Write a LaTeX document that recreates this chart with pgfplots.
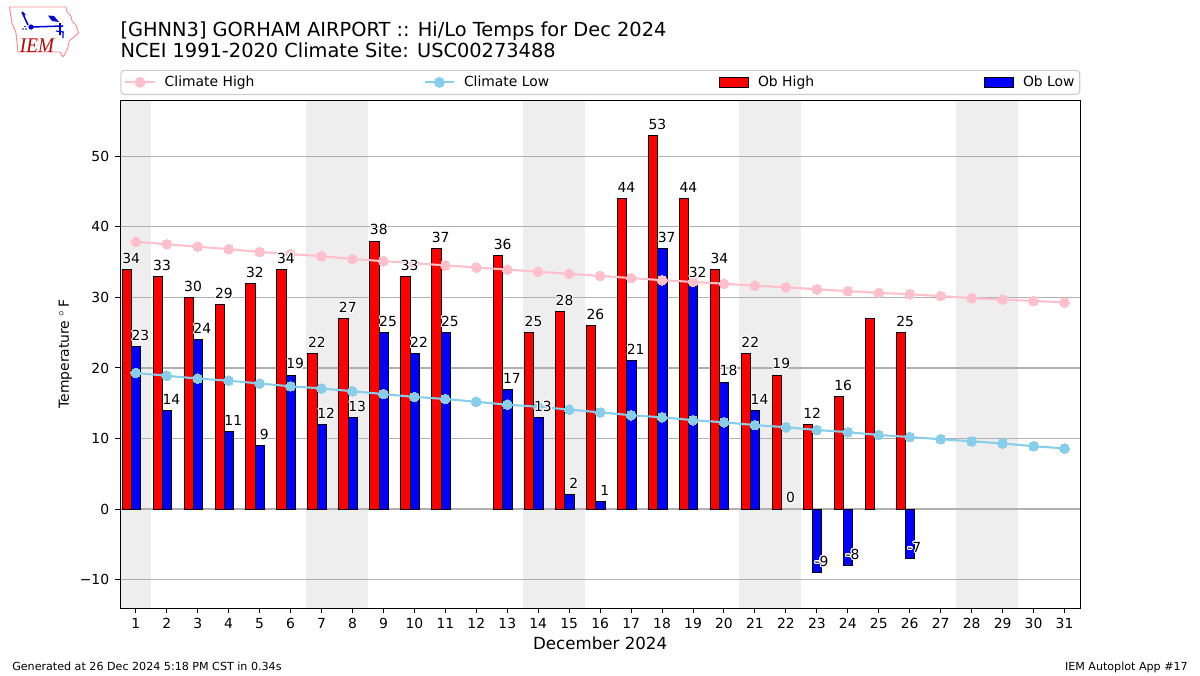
\documentclass[border=0pt]{standalone}
\usepackage{fontspec}
\setmainfont{DejaVu Sans}
\usepackage{contour}
\contourlength{0.7pt}
\contournumber{24}
\usepackage{pgfplots}
\usepackage{pgfplotstable}
\pgfplotsset{compat=1.18}
\definecolor{spanc}{HTML}{EEEEEE}
\definecolor{pinkc}{HTML}{FFC0CB}
\definecolor{skyc}{HTML}{87CEEB}
\definecolor{gridc}{HTML}{B0B0B0}
\pgfplotstableread{
x y
1 34
2 33
3 30
4 29
5 32
6 34
7 22
8 27
9 38
10 33
11 37
13 36
14 25
15 28
16 26
17 44
18 53
19 44
20 34
21 22
22 19
23 12
24 16
25 27
26 25
}\highs
\pgfplotstableread{
x y
1 23
2 14
3 24
4 11
5 9
6 19
7 12
8 13
9 25
10 22
11 25
13 17
14 13
15 2
16 1
17 21
18 37
19 32
20 18
21 14
23 -9
24 -8
26 -7
}\lows
\pgfplotstableread{
x y
1 37.9
2 37.55
3 37.2
4 36.85
5 36.45
6 36.15
7 35.85
8 35.45
9 35.15
10 34.85
11 34.55
12 34.25
13 33.95
14 33.65
15 33.35
16 33.05
17 32.75
18 32.45
19 32.2
20 31.95
21 31.65
22 31.45
23 31.15
24 30.9
25 30.65
26 30.45
27 30.2
28 29.9
29 29.7
30 29.5
31 29.3
}\climhigh
\pgfplotstableread{
x y
1 19.3
2 18.9
3 18.5
4 18.2
5 17.8
6 17.4
7 17.1
8 16.7
9 16.3
10 15.9
11 15.6
12 15.2
13 14.8
14 14.5
15 14.1
16 13.7
17 13.3
18 13.0
19 12.6
20 12.3
21 11.9
22 11.6
23 11.2
24 10.9
25 10.5
26 10.2
27 9.9
28 9.6
29 9.3
30 8.9
31 8.6
}\climlow
\pgfplotstableread{
x y t
0.85 35 34
1.85 34 33
2.85 31 30
3.85 30 29
4.85 33 32
5.85 35 34
6.85 23 22
7.85 28 27
8.85 39 38
9.85 34 33
10.85 38 37
12.85 37 36
13.85 26 25
14.85 29 28
15.85 27 26
16.85 45 44
17.85 54 53
18.85 45 44
19.85 35 34
20.85 23 22
21.85 20 19
22.85 13 12
23.85 17 16
25.85 26 25
1.15 24 23
2.15 15 14
3.15 25 24
4.15 12 11
5.15 10 9
6.15 20 19
7.15 13 12
8.15 14 13
9.15 26 25
10.15 23 22
11.15 26 25
13.15 18 17
14.15 14 13
15.15 3 2
16.15 2 1
17.15 22 21
18.15 38 37
19.15 33 32
20.15 19 18
21.15 15 14
22.15 1 0
23.15 -8 -9
24.15 -7 -8
26.15 -6 -7
}\barlabels
\begin{document}
\begin{tikzpicture}[x=0.72pt,y=-0.72pt]
\path (0,0) rectangle (1200,675);
% IEM logo
\draw[color=red!45!white,line width=0.7pt,line join=round] (9.5,7) -- (66,7) -- (67,12) -- (71,16) -- (72,21) -- (76,25) -- (78.5,33) -- (74,37) -- (69,41) -- (68,47) -- (66,52) -- (63,57) -- (60,52) -- (18,52) -- (16,33) -- (12,23) -- cycle;
\draw[blue!85!black,line width=1.1pt] (31,27) -- (63,26) (60,23) -- (60,35) (22,12) -- (28,25) (22,12) -- (25,15);
\fill[blue!85!black] (31,27) circle (2.6);
\fill[blue!85!black] (48,15.5) -- (54,16) -- (59,22) -- (52,21) -- cycle;
\fill[blue!85!black] (23,29) circle (0.9) (26,29) circle (0.9) (25,26.5) circle (0.9);
\draw[blue!85!black,line width=0.8pt] (56,31) -- (64,32) (63,32) -- (63,38);
\node[anchor=base,inner sep=0pt,text=red!75!black,xscale=0.92,font=\fontsize{15}{15}\selectfont\fontspec{Liberation Serif}\itshape] at (37,52) {IEM};
\begin{axis}[
  at={(86.6pt,-437.76pt)},anchor=south west,
  scale only axis,width=691pt,height=365.76pt,
  set layers=standard,
  xmin=0.5,xmax=31.5,ymin=-14.04,ymax=58,
  xtick={1,2,...,31},
  ytick={-10,0,10,20,30,40,50},
  yticklabels={−10,0,10,20,30,40,50},
  xmajorgrids=false,ymajorgrids=true,
  major grid style={gridc,line width=0.8pt},
  axis line style={line width=0.7pt},
  tick style={black,line width=0.7pt},
  tick align=outside,
  major tick length=3.5pt,
  xtick pos=bottom,ytick pos=left,
  tick label style={font=\fontsize{10}{12}\selectfont},
  /pgf/number format/assume math mode=true,
  xticklabel style={yshift=-0.4pt},
  yticklabel style={xshift=-1pt},
  xlabel={December 2024},
  xlabel style={font=\fontsize{12}{14}\selectfont,at={(axis description cs:0.5,0)},anchor=base,yshift=-30pt},
  ylabel={Temperature $^\circ$\,F},
  ylabel style={font=\fontsize{10}{12}\selectfont,at={(axis description cs:0,0.5)},anchor=base,rotate=0,yshift=37pt},
  title={[GHNN3] GORHAM AIRPORT :: Hi/Lo Temps for Dec 2024\\NCEI 1991-2020 Climate Site: USC00273488},
  title style={font=\fontsize{13.95}{15.1}\selectfont,at={(axis description cs:0,1)},anchor=south west,align=left,inner sep=0pt,yshift=24pt},
  legend columns=4,
  legend cell align=left,
  legend style={at={(axis description cs:0,1)},anchor=south west,yshift=3.6pt,
    draw=black!20,rounded corners=2.5pt,line width=0.8pt,
    font=\fontsize{10}{12}\selectfont,
    inner xsep=2.6pt,inner ysep=4.1pt,
    nodes={inner sep=0pt},
    /tikz/every odd column/.append style={column sep=6.5pt},
  },
]
\addlegendimage{legend image code/.code={\draw[sharp corners,pinkc,line width=1.5pt] (0pt,0pt) -- (21pt,0pt); \fill[pinkc] (10.5pt,0pt) circle (3.5pt);}}
\addlegendentry{\makebox[186.5pt][l]{Climate High}}
\addlegendimage{legend image code/.code={\draw[sharp corners,skyc,line width=1.5pt] (0pt,0pt) -- (21pt,0pt); \fill[skyc] (10.5pt,0pt) circle (3.5pt);}}
\addlegendentry{\makebox[183.6pt][l]{Climate Low}}
\addlegendimage{legend image code/.code={\draw[sharp corners,black,fill=red,line width=0.6pt] (0pt,-3.5pt) rectangle (21pt,3.5pt);}}
\addlegendentry{\makebox[162.7pt][l]{Ob High}}
\addlegendimage{legend image code/.code={\draw[sharp corners,black,fill=blue,line width=0.6pt] (0pt,-3.5pt) rectangle (21pt,3.5pt);}}
\addlegendentry{\makebox[38.2pt][l]{Ob Low}}
% weekend spans
\addplot[on layer=axis background,fill=spanc,draw=none,forget plot] coordinates {(0.5,-14.04)(1.5,-14.04)(1.5,58)(0.5,58)} --cycle;
\addplot[on layer=axis background,fill=spanc,draw=none,forget plot] coordinates {(6.5,-14.04)(8.5,-14.04)(8.5,58)(6.5,58)} --cycle;
\addplot[on layer=axis background,fill=spanc,draw=none,forget plot] coordinates {(13.5,-14.04)(15.5,-14.04)(15.5,58)(13.5,58)} --cycle;
\addplot[on layer=axis background,fill=spanc,draw=none,forget plot] coordinates {(20.5,-14.04)(22.5,-14.04)(22.5,58)(20.5,58)} --cycle;
\addplot[on layer=axis background,fill=spanc,draw=none,forget plot] coordinates {(27.5,-14.04)(29.5,-14.04)(29.5,58)(27.5,58)} --cycle;
% bars
\addplot[ybar,bar width=0.3,bar shift=-0.29,fill=red,draw=black,line width=0.7pt,forget plot] table[x=x,y=y] {\highs};
\addplot[ybar,bar width=0.3,bar shift=0.01,fill=blue,draw=black,line width=0.7pt,forget plot] table[x=x,y=y] {\lows};
% climate lines
\addplot[pinkc,line width=1.5pt,mark=*,mark size=3.5pt,mark options={fill=pinkc,draw=pinkc,line width=0pt},forget plot] table[x=x,y=y] {\climhigh};
\addplot[skyc,line width=1.5pt,mark=*,mark size=3.5pt,mark options={fill=skyc,draw=skyc,line width=0pt},forget plot] table[x=x,y=y] {\climlow};
% labels
\addplot[only marks,mark=none,forget plot,
  point meta=explicit symbolic,
  nodes near coords={\contour{white}{\pgfplotspointmeta}},
  every node near coord/.append style={anchor=base,inner sep=0pt,yshift=-0.7pt,font=\fontsize{10}{12}\selectfont,text=black},
] table[x=x,y=y,meta=t] {\barlabels};
\end{axis}
\node[anchor=base west,inner sep=0pt,font=\fontsize{8}{10}\selectfont] at (12,670) {Generated at 26 Dec 2024 5:18 PM CST in 0.34s};
\node[anchor=base east,inner sep=0pt,font=\fontsize{8}{10}\selectfont] at (1188,670) {IEM Autoplot App \#17};
\end{tikzpicture}
\end{document}
